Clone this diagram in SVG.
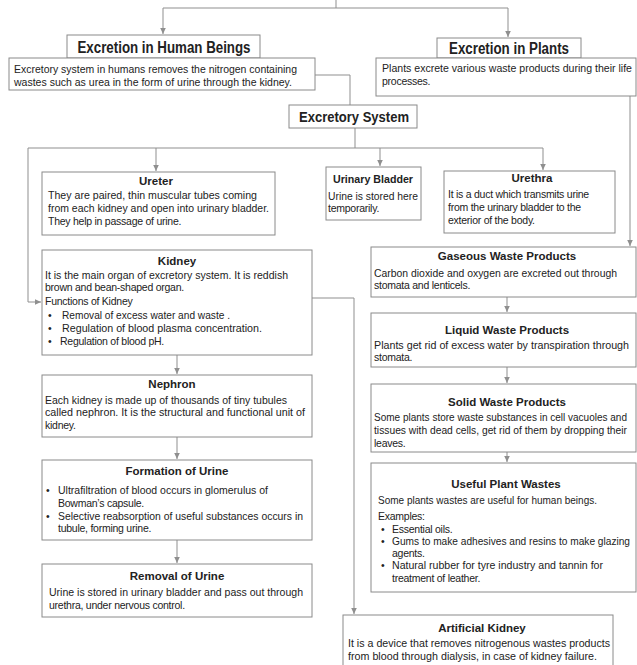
<svg xmlns="http://www.w3.org/2000/svg" width="637" height="665" viewBox="0 0 637 665">
<style>
.box{fill:#fff;stroke:#8a8a8a;stroke-width:1}
.c{fill:none;stroke:#8f8f8f;stroke-width:1}
text{font-family:"Liberation Sans",Arial,sans-serif;fill:#222}
.t{font-size:10.5px}
.s{letter-spacing:-0.25px}
.h{font-size:11.5px;font-weight:bold;text-anchor:middle}
.big{font-size:16px;font-weight:bold;text-anchor:middle}
</style>
<defs>
<marker id="a" markerUnits="userSpaceOnUse" markerWidth="8" markerHeight="8" viewBox="0 0 8 8" refX="7" refY="4" orient="auto">
<path d="M1,1.2 L7,4 L1,6.8 Z" fill="#8f8f8f"/>
</marker>
</defs>
<g id="connectors">
<path class="c" d="M336,0 V8 M163,8 H508"/>
<path class="c" d="M163,8 V34" marker-end="url(#a)"/>
<path class="c" d="M508,8 V37" marker-end="url(#a)"/>
<path class="c" d="M315,75 H350 V105"/>
<path class="c" d="M355,128 V148 M28,148 H543"/>
<path class="c" d="M156,148 V171" marker-end="url(#a)"/>
<path class="c" d="M380,148 V166" marker-end="url(#a)"/>
<path class="c" d="M543,148 V170" marker-end="url(#a)"/>
<path class="c" d="M28,148 V302 H41" marker-end="url(#a)"/>
<path class="c" d="M630,96 V246" marker-end="url(#a)"/>
<path class="c" d="M312,298 H354 V614" marker-end="url(#a)"/>
<path class="c" d="M177,355 V374" marker-end="url(#a)"/>
<path class="c" d="M177,437 V459" marker-end="url(#a)"/>
<path class="c" d="M177,540 V563" marker-end="url(#a)"/>
<path class="c" d="M507,297 V312" marker-end="url(#a)"/>
<path class="c" d="M507,367 V383" marker-end="url(#a)"/>
<path class="c" d="M507,452 V462" marker-end="url(#a)"/>
</g>
<g id="human">
<rect class="box" x="67" y="35" width="193" height="23"/>
<text class="big" x="164" y="53" textLength="173" lengthAdjust="spacingAndGlyphs">Excretion in Human Beings</text>
<rect class="box" x="9" y="58" width="306" height="32"/>
<text class="t" x="14" y="73" textLength="283" lengthAdjust="spacingAndGlyphs">Excretory system in humans removes the nitrogen containing</text>
<text class="t" x="14" y="86" textLength="278" lengthAdjust="spacingAndGlyphs">wastes such as urea in the form of urine through the kidney.</text>
</g>
<g id="plants">
<rect class="box" x="437" y="38" width="144" height="20"/>
<text class="big" x="509" y="54" textLength="120" lengthAdjust="spacingAndGlyphs">Excretion in Plants</text>
<rect class="box" x="376" y="58" width="260" height="38"/>
<text class="t" x="382" y="72" textLength="250" lengthAdjust="spacingAndGlyphs">Plants excrete various waste products during their life</text>
<text class="t s" x="382" y="85">processes.</text>
</g>
<g id="excretory-system">
<rect class="box" x="289" y="105" width="128" height="23"/>
<text class="big" x="354" y="122" style="font-size:15px" textLength="110" lengthAdjust="spacingAndGlyphs">Excretory System</text>
</g>
<g id="ureter">
<rect class="box" x="42" y="172" width="233" height="63"/>
<text class="h" x="156" y="185">Ureter</text>
<text class="t" x="48" y="199" textLength="209" lengthAdjust="spacingAndGlyphs">They are paired, thin muscular tubes coming</text>
<text class="t" x="48" y="212" textLength="221" lengthAdjust="spacingAndGlyphs">from each kidney and open into urinary bladder.</text>
<text class="t s" x="48" y="225">They help in passage of urine.</text>
</g>
<g id="bladder">
<rect class="box" x="326" y="167" width="95" height="53"/>
<text class="h" x="373" y="183" textLength="80" lengthAdjust="spacingAndGlyphs">Urinary Bladder</text>
<text class="t" x="328" y="200" textLength="90" lengthAdjust="spacingAndGlyphs">Urine is stored here</text>
<text class="t s" x="328" y="212">temporarily.</text>
</g>
<g id="urethra">
<rect class="box" x="444" y="171" width="171" height="62"/>
<text class="h" x="532" y="182">Urethra</text>
<text class="t s" x="448" y="198">It is a duct which transmits urine</text>
<text class="t s" x="448" y="211">from the urinary bladder to the</text>
<text class="t s" x="448" y="224">exterior of the body.</text>
</g>
<g id="kidney">
<rect class="box" x="42" y="250" width="270" height="105"/>
<text class="h" x="177" y="265">Kidney</text>
<text class="t" x="45" y="279" textLength="243" lengthAdjust="spacingAndGlyphs">It is the main organ of excretory system. It is reddish</text>
<text class="t s" x="45" y="291">brown and bean-shaped organ.</text>
<text class="t s" x="45" y="305">Functions of Kidney</text>
<text class="t" x="48" y="319">•</text>
<text class="t" x="62" y="319" textLength="168" lengthAdjust="spacingAndGlyphs">Removal of excess water and waste .</text>
<text class="t" x="48" y="332">•</text>
<text class="t" x="62" y="332" textLength="200" lengthAdjust="spacingAndGlyphs">Regulation of blood plasma concentration.</text>
<text class="t" x="48" y="345">•</text>
<text class="t s" x="60" y="345">Regulation of blood pH.</text>
</g>
<g id="nephron">
<rect class="box" x="42" y="375" width="270" height="62"/>
<text class="h" x="172" y="388">Nephron</text>
<text class="t" x="45" y="404" textLength="242" lengthAdjust="spacingAndGlyphs">Each kidney is made up of thousands of tiny tubules</text>
<text class="t" x="45" y="416" textLength="260" lengthAdjust="spacingAndGlyphs">called nephron. It is the structural and functional unit of</text>
<text class="t s" x="45" y="429">kidney.</text>
</g>
<g id="formation">
<rect class="box" x="42" y="460" width="270" height="80"/>
<text class="h" x="177" y="475">Formation of Urine</text>
<text class="t" x="46" y="494">•</text>
<text class="t" x="58" y="494" textLength="210" lengthAdjust="spacingAndGlyphs">Ultrafiltration of blood occurs in glomerulus of</text>
<text class="t s" x="58" y="507">Bowman’s capsule.</text>
<text class="t" x="46" y="520">•</text>
<text class="t" x="58" y="520" textLength="245" lengthAdjust="spacingAndGlyphs">Selective reabsorption of useful substances occurs in</text>
<text class="t s" x="58" y="532">tubule, forming urine.</text>
</g>
<g id="removal">
<rect class="box" x="42" y="564" width="270" height="53"/>
<text class="h" x="177" y="580">Removal of Urine</text>
<text class="t" x="49" y="596" textLength="254" lengthAdjust="spacingAndGlyphs">Urine is stored in urinary bladder and pass out through</text>
<text class="t s" x="49" y="609">urethra, under nervous control.</text>
</g>
<g id="artificial-kidney">
<rect class="box" x="343" y="615" width="270" height="60"/>
<text class="h" x="482" y="632">Artificial Kidney</text>
<text class="t" x="348" y="647" textLength="262" lengthAdjust="spacingAndGlyphs">It is a device that removes nitrogenous wastes products</text>
<text class="t" x="348" y="660" textLength="249" lengthAdjust="spacingAndGlyphs">from blood through dialysis, in case of kidney failure.</text>
</g>
<g id="gaseous">
<rect class="box" x="371" y="247" width="265" height="50"/>
<text class="h" x="507" y="260">Gaseous Waste Products</text>
<text class="t" x="374" y="277" textLength="243" lengthAdjust="spacingAndGlyphs">Carbon dioxide and oxygen are excreted out through</text>
<text class="t s" x="374" y="289">stomata and lenticels.</text>
</g>
<g id="liquid">
<rect class="box" x="371" y="313" width="265" height="54"/>
<text class="h" x="507" y="334">Liquid Waste Products</text>
<text class="t" x="374" y="349" textLength="255" lengthAdjust="spacingAndGlyphs">Plants get rid of excess water by transpiration through</text>
<text class="t s" x="374" y="361">stomata.</text>
</g>
<g id="solid">
<rect class="box" x="371" y="384" width="265" height="68"/>
<text class="h" x="507" y="406">Solid Waste Products</text>
<text class="t" x="374" y="421" style="font-size:10px" textLength="253" lengthAdjust="spacingAndGlyphs">Some plants store waste substances in cell vacuoles and</text>
<text class="t" x="374" y="434" style="font-size:10px" textLength="253" lengthAdjust="spacingAndGlyphs">tissues with dead cells, get rid of them by dropping their</text>
<text class="t s" x="374" y="447">leaves.</text>
</g>
<g id="useful">
<rect class="box" x="371" y="463" width="265" height="129"/>
<text class="h" x="506" y="488">Useful Plant Wastes</text>
<text class="t" x="378" y="504" textLength="219" lengthAdjust="spacingAndGlyphs">Some plants wastes are useful for human beings.</text>
<text class="t s" x="378" y="520">Examples:</text>
<text class="t" x="381" y="533">•</text>
<text class="t s" x="392" y="533">Essential oils.</text>
<text class="t" x="381" y="545">•</text>
<text class="t" x="392" y="545" textLength="238" lengthAdjust="spacingAndGlyphs">Gums to make adhesives and resins to make glazing</text>
<text class="t s" x="392" y="557">agents.</text>
<text class="t" x="381" y="569">•</text>
<text class="t" x="392" y="569" textLength="211" lengthAdjust="spacingAndGlyphs">Natural rubber for tyre industry and tannin for</text>
<text class="t s" x="392" y="582">treatment of leather.</text>
</g>
</svg>
